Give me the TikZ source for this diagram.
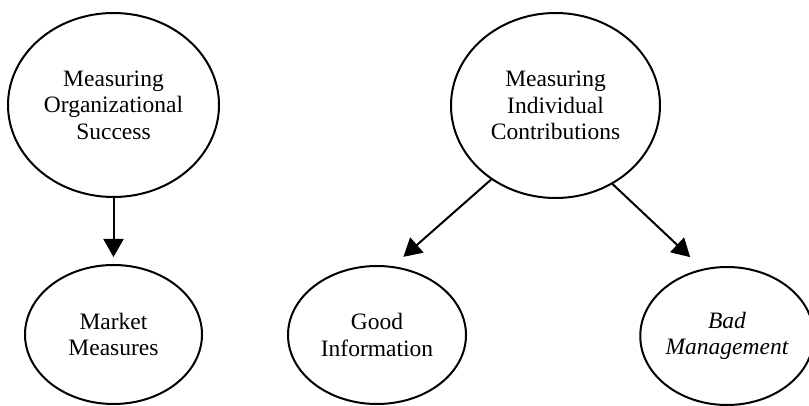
\documentclass[tikz,border=0pt]{standalone}
\usepackage{fontspec}
\setmainfont{Liberation Serif}
\usetikzlibrary{shapes.geometric,arrows.meta}
\begin{document}
\begin{tikzpicture}[x=1pt,y=-1pt,
  oval/.style={draw, ellipse, line width=2pt, inner sep=0pt, align=center,
    font=\fontsize{23.5}{26.5}\selectfont},
  conn/.style={line width=2pt, -{Triangle[length=18pt,width=20pt]}}]
\useasboundingbox (0,0) rectangle (809,406);
\node[oval, minimum width=211pt, minimum height=184pt] (mos) at (113.5,105) {Measuring\\Organizational\\Success};
\node[oval, minimum width=209pt, minimum height=185pt] (mic) at (555.5,105.5) {Measuring\\Individual\\Contributions};
\node[oval, minimum width=177pt, minimum height=139pt] (mm) at (113.5,334.5) {Market\\Measures};
\node[oval, minimum width=178pt, minimum height=138pt] (gi) at (377,335) {Good\\Information};
\node[oval, minimum width=162pt, minimum height=138pt] (bm) at (727,336) {\itshape Bad\\\itshape Management};
\draw[conn, shorten >=7pt] (mos.south) -- (mos.south |- mm.north);
\draw[conn, shorten >=14pt] (mic.-131) -- (gi.77);
\draw[conn, shorten >=17pt] (mic.-54) -- (bm.110);
\end{tikzpicture}
\end{document}
